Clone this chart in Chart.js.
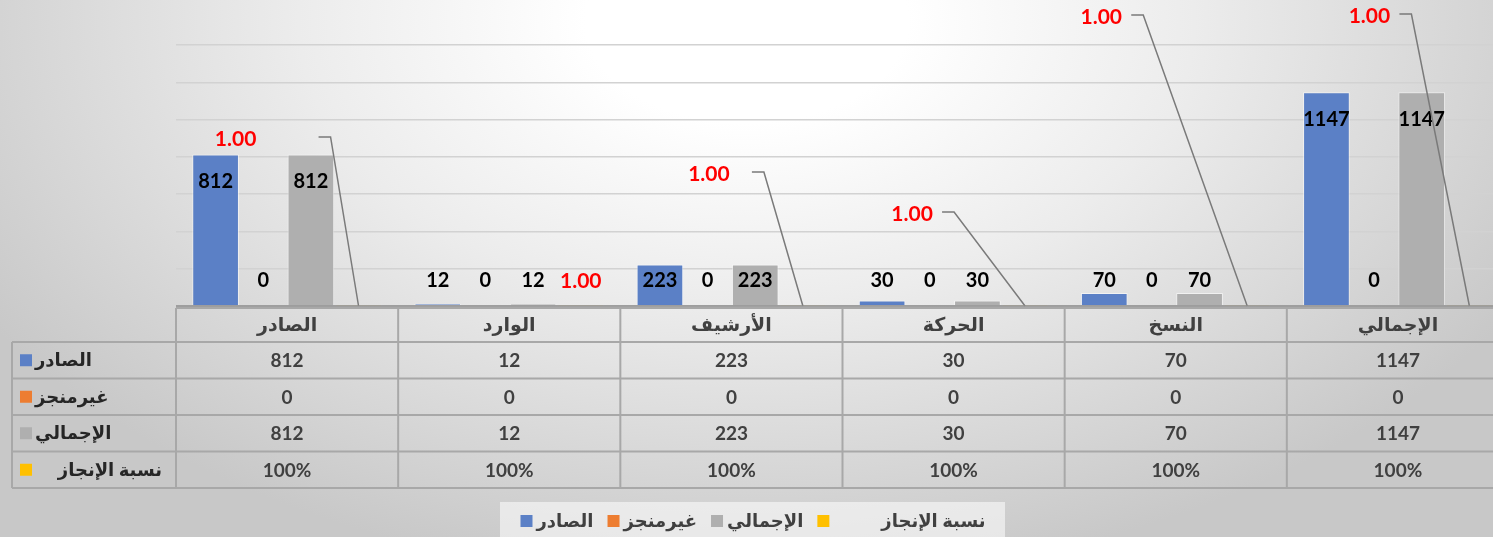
<!DOCTYPE html>
<html>
<head>
<meta charset="utf-8">
<script src="https://cdn.jsdelivr.net/npm/chart.js@4.4.1/dist/chart.umd.min.js"></script>
<style>
  html, body { margin: 0; padding: 0; width: 1493px; height: 537px; overflow: hidden; }
  body {
    background: radial-gradient(ellipse 60% 105% at 50% 4%, #ffffff 18%, #ececec 50%, #c8c8c8 100%);
  }
  canvas { display: block; }
</style>
</head>
<body>
<canvas id="chart" width="1520" height="537"></canvas>
<script>
// ---- data ----
const categories = ['الصادر', 'الوارد', 'الأرشيف', 'الحركة', 'النسخ', 'الإجمالي'];
const seriesNames = ['الصادر', 'غيرمنجز', 'الإجمالي', 'نسبة الإنجاز'];
const outgoing = [812, 12, 223, 30, 70, 1147];
const pending = [0, 0, 0, 0, 0, 0];
const totals = [812, 12, 223, 30, 70, 1147];
const completion = [1, 1, 1, 1, 1, 1];
const yMax = 1400;
const yStep = 200;

// where Excel's "1.00" labels were dragged to (pixels, relative to the yellow bar)
const pctLabelLayout = [
  { dx: -123, rise: 167, leaderDx: -40 },
  { dx: 0,    rise: 25,  leaderDx: null },
  { dx: -94,  rise: 132, leaderDx: -51 },
  { dx: -113, rise: 92,  leaderDx: -83 },
  { dx: -146, rise: 289, leaderDx: -116 },
  { dx: -100, rise: 290, leaderDx: -70 }
];

const COLORS = ['#5b80c6', '#ed7d31', '#afafaf', '#ffc000'];
const FONT = "Lato, 'DejaVu Sans', sans-serif";

// value labels on bars + the red 1.00 labels with leader lines
const barLabels = {
  id: 'barLabels',
  afterDatasetsDraw(chart) {
    const ctx = chart.ctx;
    const axisY = chart.scales.y.getPixelForValue(0);
    ctx.save();
    ctx.textAlign = 'center';
    ctx.textBaseline = 'middle';
    chart.data.datasets.forEach((ds, di) => {
      const meta = chart.getDatasetMeta(di);
      meta.data.forEach((bar, i) => {
        if (di < 3) {
          ctx.font = 'bold 20px ' + FONT;
          ctx.fillStyle = '#000';
          const y = Math.min(bar.y + 27, axisY - 25);
          ctx.fillText(String(ds.data[i]), bar.x, y);
        } else {
          const lay = pctLabelLayout[i];
          const tx = bar.x + lay.dx;
          const ty = axisY - lay.rise;
          ctx.font = 'bold 21px ' + FONT;
          ctx.fillStyle = '#ff0000';
          ctx.fillText(ds.data[i].toFixed(2), tx, ty);
          if (lay.leaderDx !== null) {
            const lx = bar.x + lay.leaderDx;
            ctx.strokeStyle = '#7a7a7a';
            ctx.lineWidth = 1.5;
            ctx.beginPath();
            ctx.moveTo(lx, ty - 2);
            ctx.lineTo(lx + 12, ty - 2);
            ctx.lineTo(bar.x, axisY);
            ctx.stroke();
          }
        }
      });
    });
    ctx.restore();
  }
};

// data table under the plot + legend at the bottom
const dataTable = {
  id: 'dataTable',
  afterDraw(chart) {
    const ctx = chart.ctx;
    const area = chart.chartArea;
    const xs = chart.scales.x;
    const n = categories.length;
    const colW = (area.right - area.left) / n;
    const top = area.bottom;
    const headH = 36;
    const rowH = 36.5;
    const tableLeft = 12;
    const rowsTop = top + headH;
    const rowsBottom = rowsTop + rowH * 4;
    const rows = [outgoing, pending, totals, completion.map(v => Math.round(v * 100) + '%')];

    ctx.save();
    // axis line
    ctx.strokeStyle = '#8c8c8c';
    ctx.lineWidth = 1.5;
    ctx.beginPath();
    ctx.moveTo(area.left, top);
    ctx.lineTo(area.right, top);
    ctx.stroke();

    ctx.strokeStyle = '#a8a8a8';
    ctx.lineWidth = 2;
    ctx.beginPath();
    ctx.moveTo(area.left, top + 2);
    ctx.lineTo(area.right, top + 2);
    for (let r = 0; r <= 4; r++) {
      const y = rowsTop + r * rowH;
      ctx.moveTo(tableLeft, y);
      ctx.lineTo(area.right, y);
    }
    for (let c = 0; c <= n; c++) {
      const x = area.left + c * colW;
      ctx.moveTo(x, top + 2);
      ctx.lineTo(x, rowsBottom);
    }
    ctx.moveTo(tableLeft, rowsTop);
    ctx.lineTo(tableLeft, rowsBottom);
    ctx.stroke();

    ctx.textAlign = 'center';
    ctx.textBaseline = 'middle';
    ctx.fillStyle = '#404040';
    ctx.font = 'bold 19px ' + FONT;
    categories.forEach((c, i) => {
      ctx.fillText(c, xs.getPixelForValue(i), top + headH / 2 + 1);
    });
    ctx.font = 'bold 19px ' + FONT;
    rows.forEach((row, r) => {
      row.forEach((v, i) => {
        ctx.fillText(String(v), xs.getPixelForValue(i), rowsTop + r * rowH + rowH / 2 + 1);
      });
    });

    // row keys
    ctx.font = 'bold 18px ' + FONT;
    seriesNames.forEach((name, r) => {
      const cy = rowsTop + r * rowH + rowH / 2;
      ctx.fillStyle = COLORS[r];
      ctx.fillRect(20, cy - 6, 12, 12);
      ctx.fillStyle = '#262626';
      if (r < 3) {
        ctx.textAlign = 'left';
        ctx.fillText(name, 35, cy);
      } else {
        ctx.textAlign = 'right';
        ctx.fillText(name, 162, cy);
      }
    });

    // legend
    const legY = 521;
    ctx.fillStyle = 'rgba(255,255,255,0.55)';
    ctx.fillRect(500, 502, 505, 40);
    ctx.font = 'bold 18px ' + FONT;
    ctx.textAlign = 'left';
    const gaps = [14, 14, 14, 0];
    const lead = [4, 4, 4, 52];
    let w = 0;
    seriesNames.forEach((s, i) => { w += 12 + lead[i] + ctx.measureText(s).width + gaps[i]; });
    let x = 753 - w / 2;
    seriesNames.forEach((s, i) => {
      ctx.fillStyle = COLORS[i];
      ctx.fillRect(x, legY - 6, 12, 12);
      x += 12 + lead[i];
      ctx.fillStyle = '#404040';
      ctx.fillText(s, x, legY);
      x += ctx.measureText(s).width + gaps[i];
    });
    ctx.restore();
  }
};

const datasets = [outgoing, pending, totals, completion].map((d, i) => ({
  label: seriesNames[i],
  data: d,
  backgroundColor: COLORS[i],
  borderColor: 'rgba(255,255,255,0.55)',
  borderWidth: 1,
  barPercentage: 0.98,
  categoryPercentage: 0.858
}));

new Chart(document.getElementById('chart'), {
  type: 'bar',
  data: { labels: categories, datasets: datasets },
  options: {
    responsive: false,
    animation: false,
    devicePixelRatio: 1,
    layout: { padding: { left: 176, right: 11, top: 45, bottom: 231 } },
    plugins: {
      legend: { display: false },
      title: { display: false },
      tooltip: { enabled: false }
    },
    scales: {
      x: { display: false },
      y: {
        min: 0,
        max: yMax,
        ticks: { display: false, stepSize: yStep },
        grid: { color: '#d2d2d2', lineWidth: 1.5, drawTicks: false },
        border: { display: false },
        afterFit(scale) { scale.width = 0; }
      }
    }
  },
  plugins: [barLabels, dataTable]
});
</script>
</body>
</html>
